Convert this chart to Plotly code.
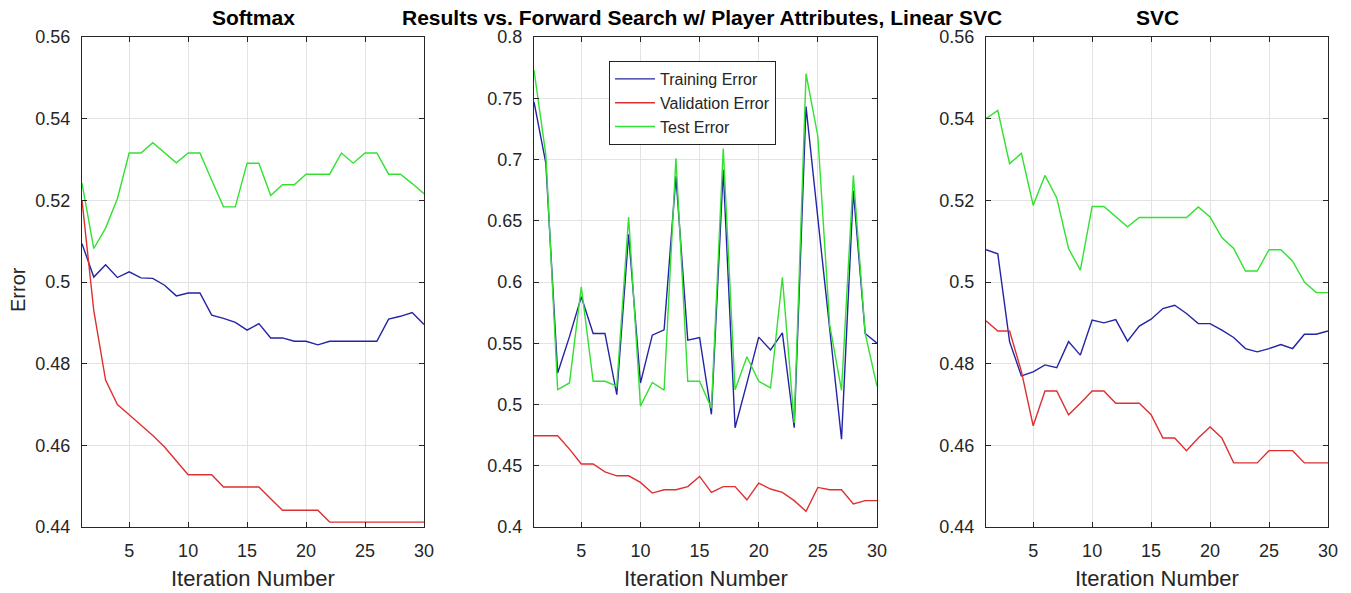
import plotly.graph_objects as go

iterations = list(range(1, 31))

# Softmax
train_softmax = [0.5094, 0.5012, 0.5042, 0.5011, 0.5025, 0.5010, 0.5009, 0.4992, 0.4966, 0.4973,
                 0.4973, 0.4919, 0.4911, 0.4901, 0.4882, 0.4898, 0.4863, 0.4863, 0.4855, 0.4855,
                 0.4846, 0.4855, 0.4855, 0.4855, 0.4855, 0.4855, 0.4909, 0.4916, 0.4925, 0.4896]
val_softmax = [0.5200, 0.4930, 0.4760, 0.4700, 0.4675, 0.4650, 0.4624, 0.4596, 0.4561, 0.4528,
               0.4528, 0.4528, 0.4498, 0.4498, 0.4498, 0.4498, 0.4469, 0.4441, 0.4441, 0.4441,
               0.4441, 0.4412, 0.4412, 0.4412, 0.4412, 0.4412, 0.4412, 0.4412, 0.4412, 0.4412]
test_softmax = [0.5242, 0.5082, 0.5132, 0.5204, 0.5316, 0.5316, 0.5341, 0.5317, 0.5292, 0.5316,
                0.5316, 0.5249, 0.5184, 0.5184, 0.5291, 0.5291, 0.5212, 0.5238, 0.5238, 0.5264,
                0.5264, 0.5264, 0.5316, 0.5291, 0.5316, 0.5316, 0.5264, 0.5264, 0.5241, 0.5216]

# Linear SVC
train_linear = [0.747, 0.697, 0.5257, 0.5554, 0.588, 0.558, 0.558, 0.508, 0.639, 0.5175,
                0.5566, 0.561, 0.6862, 0.5525, 0.5547, 0.492, 0.6916, 0.481, 0.5175, 0.555,
                0.5446, 0.5584, 0.481, 0.7432, 0.652, 0.5600, 0.4716, 0.6745, 0.558, 0.550]
val_linear = [0.4745, 0.4745, 0.4745, 0.4636, 0.4514, 0.4514, 0.4450, 0.4418, 0.4418, 0.4364,
              0.4277, 0.4304, 0.4304, 0.4330, 0.4413, 0.4283, 0.4330, 0.4330, 0.4222, 0.4358,
              0.4310, 0.4283, 0.4215, 0.4128, 0.4323, 0.4304, 0.4304, 0.4188, 0.4215, 0.4215]
test_linear = [0.773, 0.704, 0.5122, 0.5176, 0.596, 0.519, 0.519, 0.515, 0.653, 0.4987,
               0.518, 0.5117, 0.701, 0.519, 0.519, 0.497, 0.709, 0.512, 0.539, 0.519,
               0.5135, 0.6038, 0.485, 0.770, 0.719, 0.565, 0.5116, 0.687, 0.558, 0.5149]

# SVC
train_svc = [0.5079, 0.5069, 0.4854, 0.4770, 0.4780, 0.4797, 0.4790, 0.4854, 0.4821, 0.4907,
             0.4900, 0.4908, 0.4855, 0.4892, 0.4909, 0.4935, 0.4943, 0.4923, 0.4898, 0.4898,
             0.4882, 0.4864, 0.4837, 0.4829, 0.4837, 0.4847, 0.4837, 0.4872, 0.4872, 0.4880]
val_svc = [0.4905, 0.4880, 0.4880, 0.4781, 0.4648, 0.4733, 0.4733, 0.4675, 0.4703, 0.4733,
           0.4733, 0.4703, 0.4703, 0.4703, 0.4675, 0.4618, 0.4618, 0.4587, 0.4618, 0.4645,
           0.4618, 0.4557, 0.4557, 0.4557, 0.4587, 0.4587, 0.4587, 0.4557, 0.4557, 0.4557]
test_svc = [0.5400, 0.5420, 0.5290, 0.5315, 0.5188, 0.5261, 0.5206, 0.5082, 0.5029, 0.5185,
            0.5185, 0.5159, 0.5135, 0.5158, 0.5158, 0.5158, 0.5158, 0.5158, 0.5184, 0.5159,
            0.5109, 0.5082, 0.5027, 0.5027, 0.5079, 0.5079, 0.5051, 0.5000, 0.4974, 0.4974]

panel_titles = ["Softmax", "Results vs. Forward Search w/ Player Attributes, Linear SVC", "SVC"]
series_names = ["Training Error", "Validation Error", "Test Error"]
x_ticks = [5, 10, 15, 20, 25, 30]
y_ticks_a = [0.44, 0.46, 0.48, 0.5, 0.52, 0.54, 0.56]
y_ticklabels_a = ["0.44", "0.46", "0.48", "0.5", "0.52", "0.54", "0.56"]
y_ticks_b = [0.4, 0.45, 0.5, 0.55, 0.6, 0.65, 0.7, 0.75, 0.8]
y_ticklabels_b = ["0.4", "0.45", "0.5", "0.55", "0.6", "0.65", "0.7", "0.75", "0.8"]

colors = ["rgb(35,35,165)", "rgb(222,48,48)", "rgb(50,225,50)"]
W, H = 1351, 593
FONT = "Liberation Sans, Arial, sans-serif"
TXT = "#262626"


def fx(px):
    return px / W


def fy(py):
    return 1 - py / H


panels = [
    (train_softmax, val_softmax, test_softmax),
    (train_linear, val_linear, test_linear),
    (train_svc, val_svc, test_svc),
]
x_px = [(82, 424), (534, 877), (986, 1328)]
y_top, y_bot = 37, 527

fig = go.Figure()
for p, series in enumerate(panels):
    xa = "x" if p == 0 else f"x{p+1}"
    ya = "y" if p == 0 else f"y{p+1}"
    for s, vals in enumerate(series):
        fig.add_trace(go.Scatter(
            x=iterations, y=vals, mode="lines", name=series_names[s],
            line=dict(color=colors[s], width=1.4),
            xaxis=xa, yaxis=ya, showlegend=(p == 1),
        ))

axis_common = dict(
    showline=True, linecolor=TXT, linewidth=1, mirror="ticks",
    ticks="inside", ticklen=5, tickcolor=TXT, automargin=False,
    showgrid=True, gridcolor="#e3e3e3", gridwidth=1, zeroline=False,
    tickfont=dict(family=FONT, size=18, color=TXT),
)
layout = dict(
    width=W, height=H,
    margin=dict(l=0, r=0, t=0, b=0, pad=0, autoexpand=False),
    paper_bgcolor="white", plot_bgcolor="white",
    showlegend=True,
    legend=dict(
        x=fx(609), y=fy(61), xanchor="left", yanchor="top",
        bgcolor="white", bordercolor="#222222", borderwidth=1,
        font=dict(family=FONT, size=16, color=TXT),
        tracegroupgap=0, itemwidth=40,
    ),
)
annotations = []
for p in range(3):
    xk = "xaxis" if p == 0 else f"xaxis{p+1}"
    yk = "yaxis" if p == 0 else f"yaxis{p+1}"
    x0, x1 = x_px[p]
    ya = "y" if p == 0 else f"y{p+1}"
    xa = "x" if p == 0 else f"x{p+1}"
    layout[xk] = dict(axis_common, domain=[fx(x0), fx(x1)], range=[1, 30],
                      tickvals=x_ticks, anchor=ya, ticklabelstandoff=7)
    if p == 1:
        yr, tv, tt = [0.4, 0.8], y_ticks_b, y_ticklabels_b
    else:
        yr, tv, tt = [0.44, 0.56], y_ticks_a, y_ticklabels_a
    layout[yk] = dict(axis_common, domain=[fy(y_bot), fy(y_top)], range=yr,
                      tickvals=tv, ticktext=tt, anchor=xa, ticklabelstandoff=7)
    annotations.append(dict(
        text="<b>" + panel_titles[p] + "</b>", x=fx((x0 + x1) / 2 - (4 if p == 1 else 0)),
        y=fy(17), xref="paper", yref="paper", showarrow=False,
        xanchor="center", yanchor="middle",
        font=dict(family=FONT, size=21, color="black"),
    ))
    annotations.append(dict(
        text="Iteration Number", x=fx((x0 + x1) / 2), y=fy(578),
        xref="paper", yref="paper", showarrow=False,
        xanchor="center", yanchor="middle",
        font=dict(family=FONT, size=22, color=TXT),
    ))
annotations.append(dict(
    text="Error", x=fx(18), y=fy(290), xref="paper", yref="paper",
    showarrow=False, textangle=-90, xanchor="center", yanchor="middle",
    font=dict(family=FONT, size=20, color=TXT),
))
layout["annotations"] = annotations
fig.update_layout(**layout)
fig.write_html(
    "out.html",
    config={"displayModeBar": False},
    post_script="document.body.style.margin='0px';document.body.style.overflow='hidden';",
)
